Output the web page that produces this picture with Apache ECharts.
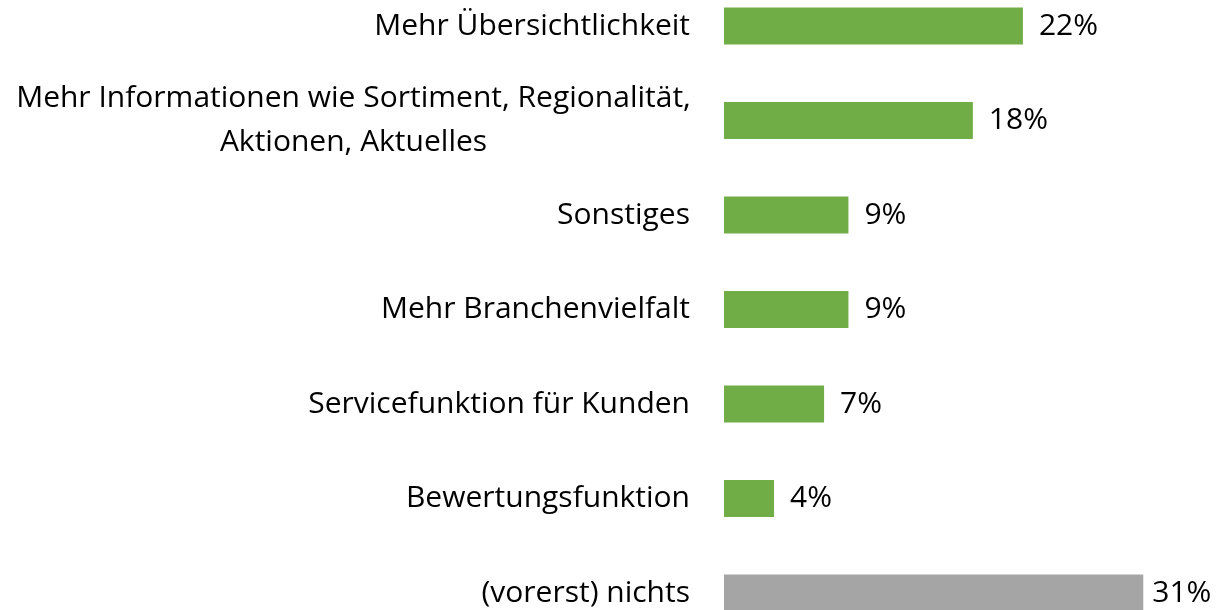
<!DOCTYPE html>
<html>
<head>
<meta charset="utf-8">
<script src="https://cdn.jsdelivr.net/npm/echarts@6/dist/echarts.min.js"></script>
<style>
  html, body { margin: 0; padding: 0; background: #fff; }
  #chart { width: 1228px; height: 610px; }
</style>
</head>
<body>
<div id="chart"></div>
<script>
  'use strict'

  var categories = [
    'Mehr Übersichtlichkeit',
    'Mehr Informationen wie Sortiment, Regionalität,\nAktionen, Aktuelles',
    'Sonstiges',
    'Mehr Branchenvielfalt',
    'Servicefunktion für Kunden',
    'Bewertungsfunktion',
    '(vorerst) nichts'
  ];
  var values = [22.1, 18.4, 9.2, 9.2, 7.4, 3.7, 31.0];

  var green = '#70ad47';
  var grey = '#a5a5a5';
  var font = '"Open Sans", "Noto Sans", sans-serif';

  var barData = values.map(function (v, i) {
    var last = i === values.length - 1;
    return {
      value: v,
      itemStyle: { color: last ? grey : green },
      label: { distance: last ? 9 : 16 }
    };
  });

  var chart = echarts.init(document.getElementById('chart'));

  // categories sit on the ticks (boundaryGap false), so the first and
  // last bars can hang over the grid edges like in the original
  var option = {
    animation: false,
    grid: {
      left: 724,
      top: 26,
      width: 541,
      height: 567,
      containLabel: false,
      outerBoundsMode: 'none'
    },
    xAxis: {
      type: 'value',
      min: 0,
      max: 40,
      show: false
    },
    yAxis: {
      type: 'category',
      data: categories,
      inverse: true,
      boundaryGap: false,
      axisLine: { show: false },
      axisTick: { show: false },
      splitLine: { show: false },
      axisLabel: {
        margin: 34,
        fontSize: 30,
        lineHeight: 44,
        fontFamily: font,
        color: '#000',
        align: 'right',
        // wrapped labels are centred line by line
        formatter: function (v) {
          if (v.indexOf('\n') < 0) return v;
          return v.split('\n').map(function (s) {
            return '{c|' + s + '}';
          }).join('\n');
        },
        rich: {
          c: {
            width: 673,
            align: 'center',
            fontSize: 30,
            lineHeight: 44,
            fontFamily: font,
            color: '#000'
          }
        }
      }
    },
    series: [{
      type: 'bar',
      data: barData,
      barWidth: 37,
      clip: false,
      label: {
        show: true,
        position: 'right',
        fontSize: 30,
        fontFamily: font,
        color: '#000',
        formatter: function (p) { return Math.round(p.value) + '%'; }
      }
    }]
  };

  chart.setOption(option);
  window.addEventListener('resize', function () {
    chart.resize();
  });
</script>
</body>
</html>
